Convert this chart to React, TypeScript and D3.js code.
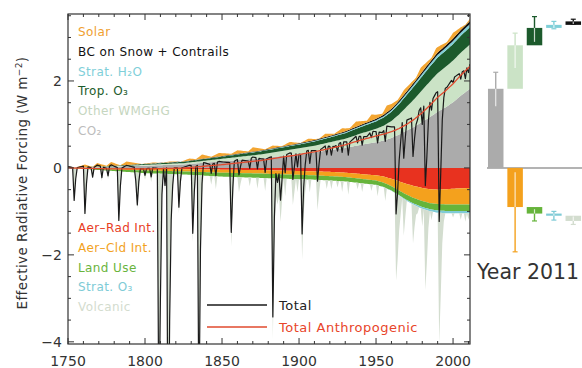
import React from "react";
import * as d3 from "d3";

// ---------- data ----------
const knotYears = [1750, 1775, 1800, 1825, 1850, 1875, 1900, 1910, 1920, 1930, 1940, 1950, 1955, 1960, 1965, 1970, 1975, 1980, 1985, 1990, 1995, 2000, 2005, 2011];
const co2 = [0, 0.02, 0.05, 0.08, 0.15, 0.22, 0.32, 0.36, 0.41, 0.46, 0.53, 0.59, 0.63, 0.69, 0.77, 0.86, 0.95, 1.06, 1.17, 1.29, 1.39, 1.51, 1.66, 1.82];
const otherWMGHG = [0, 0.01, 0.02, 0.03, 0.06, 0.09, 0.13, 0.15, 0.18, 0.21, 0.26, 0.31, 0.34, 0.39, 0.46, 0.55, 0.64, 0.73, 0.82, 0.89, 0.93, 0.96, 0.99, 1.02];
const tropO3 = [0, 0.01, 0.02, 0.03, 0.05, 0.07, 0.09, 0.1, 0.11, 0.13, 0.15, 0.17, 0.19, 0.21, 0.24, 0.27, 0.3, 0.32, 0.34, 0.36, 0.37, 0.38, 0.39, 0.4];
const stratH2O = [0, 0, 0.002, 0.003, 0.005, 0.008, 0.012, 0.014, 0.017, 0.02, 0.024, 0.028, 0.031, 0.035, 0.04, 0.045, 0.05, 0.055, 0.059, 0.063, 0.066, 0.068, 0.07, 0.072];
const bcSnowContrails = [0, 0, 0.003, 0.005, 0.01, 0.012, 0.015, 0.017, 0.02, 0.022, 0.025, 0.03, 0.032, 0.035, 0.038, 0.04, 0.043, 0.046, 0.049, 0.052, 0.055, 0.058, 0.062, 0.066];
const aerRad = [0, -0.01, -0.02, -0.03, -0.04, -0.05, -0.07, -0.08, -0.09, -0.11, -0.14, -0.17, -0.2, -0.25, -0.31, -0.37, -0.42, -0.46, -0.49, -0.5, -0.49, -0.48, -0.47, -0.46];
const aerCld = [0, -0.02, -0.04, -0.05, -0.07, -0.08, -0.09, -0.09, -0.1, -0.1, -0.11, -0.12, -0.14, -0.17, -0.21, -0.25, -0.28, -0.3, -0.32, -0.33, -0.35, -0.36, -0.37, -0.38];
const landUse = [0, -0.03, -0.06, -0.07, -0.09, -0.1, -0.1, -0.1, -0.1, -0.1, -0.1, -0.1, -0.1, -0.1, -0.11, -0.12, -0.13, -0.14, -0.14, -0.15, -0.15, -0.15, -0.15, -0.15];
const stratO3 = [0, 0, 0, 0, 0, 0, 0, 0, 0, 0, 0, -0.002, -0.004, -0.007, -0.012, -0.02, -0.03, -0.04, -0.045, -0.05, -0.05, -0.05, -0.05, -0.05];

const solarYears = [1750, 1755, 1761, 1766, 1769, 1775, 1778, 1784, 1788, 1798, 1805, 1810, 1816, 1823, 1829, 1833, 1837, 1843, 1848, 1856, 1860, 1867, 1870, 1878, 1883, 1889, 1894, 1901, 1906, 1913, 1917, 1923, 1928, 1933, 1937, 1944, 1947, 1954, 1957, 1964, 1968, 1976, 1979, 1986, 1989, 1996, 2000, 2008, 2011];
const solarValues = [0.03, 0, 0.06, 0, 0.08, 0.01, 0.09, 0, 0.08, 0, 0.02, 0, 0.02, 0, 0.05, 0.01, 0.1, 0.02, 0.08, 0.02, 0.08, 0.02, 0.1, 0.01, 0.06, 0.01, 0.07, 0, 0.06, 0, 0.08, 0.02, 0.09, 0.03, 0.12, 0.04, 0.14, 0.04, 0.16, 0.05, 0.11, 0.05, 0.14, 0.05, 0.14, 0.05, 0.13, 0.02, 0.05];

const volcYears = [1754, 1755, 1761, 1762, 1766, 1772, 1776, 1783, 1784, 1794, 1795, 1796, 1800, 1804, 1809, 1810, 1811, 1813, 1815, 1816, 1817, 1818, 1822, 1823, 1831, 1832, 1835, 1836, 1837, 1843, 1846, 1856, 1857, 1861, 1862, 1868, 1873, 1878, 1883, 1884, 1885, 1886, 1887, 1888, 1889, 1891, 1896, 1897, 1899, 1902, 1903, 1904, 1907, 1912, 1913, 1918, 1921, 1925, 1928, 1932, 1938, 1941, 1947, 1951, 1956, 1963, 1964, 1965, 1966, 1968, 1969, 1974, 1975, 1976, 1977, 1980, 1982, 1983, 1984, 1986, 1991, 1992, 1993, 1994, 2000, 2005, 2008, 2010];
const volcValues = [-0.75, -0.25, -1.1, -0.4, -0.2, -0.25, -0.2, -1.2, -0.4, -0.3, -0.85, -0.3, -0.15, -0.2, -6.0, -3.0, -0.6, -0.4, -7.5, -3.5, -1.2, -0.4, -0.9, -0.3, -1.55, -0.6, -6.0, -2.0, -0.5, -0.2, -0.3, -1.6, -0.6, -0.35, -0.15, -0.2, -0.25, -0.3, -3.7, -1.4, -0.4, -0.6, -0.4, -1.0, -0.5, -0.4, -0.6, -0.3, -0.3, -1.85, -0.8, -0.3, -0.3, -0.7, -0.3, -0.2, -0.2, -0.15, -0.25, -0.3, -0.15, -0.2, -0.15, -0.25, -0.3, -2.0, -1.5, -0.8, -0.4, -0.85, -0.4, -0.9, -0.5, -0.2, -0.15, -0.4, -1.85, -1.2, -0.4, -0.2, -3.0, -1.9, -0.7, -0.2, -0.1, -0.15, -0.2, -0.15];

const xTickLabels = ["1750", "1800", "1850", "1900", "1950", "2000"];
const yTickLabels = ["\u22124", "\u22122", "0", "2"];

const posLegend = ["Solar", "BC on Snow + Contrails", "Strat. H\u2082O", "Trop. O\u2083", "Other WMGHG", "CO\u2082"];
const negLegend = ["Aer\u2013Rad Int.", "Aer\u2013Cld Int.", "Land Use", "Strat. O\u2083", "Volcanic"];

// Year 2011 bars
const posBarValues = [1.82, 1.0, 0.4, 0.07, 0.08];
const posErrLow = [1.42, 2.3, 2.9, 3.2, 3.31];
const posErrHigh = [2.2, 3.1, 3.48, 3.37, 3.42];
const negBarValues = [-0.9, -0.15, -0.05, -0.12];
const negErrLow = [-1.93, -1.22, -1.2, -1.3];
const negErrHigh = [-0.1, -0.95, -1.0, -1.12];

// ---------- styles ----------
const C = {
  co2: "#ababab",
  wmghg: "#cbe3c6",
  o3: "#1c5a2c",
  h2o: "#7fcfd8",
  bc: "#111111",
  solar: "#f3a531",
  aerRad: "#e8321f",
  aerCld: "#f4a11d",
  land: "#66b43b",
  so3: "#7fcbd6",
  volc: "#d3ddcf",
};
const posLegendColors = ["#f0a030", "#111", "#7fcfd9", "#1e5c2c", "#c6d6c0", "#bcbcbc"];
const negLegendColors = ["#e8401f", "#f2a21e", "#69b43c", "#7ecbd6", "#d3dcce"];
const FONT = "DejaVu Sans, Verdana, sans-serif";

export default function App() {
  const x = d3.scaleLinear().domain([1750, 2011]).range([68, 470]);
  const y = d3.scaleLinear().domain([-4.05, 3.54]).range([344, 14]);

  const lin = (vals: number[]) => d3.scaleLinear().domain(knotYears).range(vals).clamp(true);
  const fCo2 = lin(co2), fW = lin(otherWMGHG), fO3 = lin(tropO3), fH = lin(stratH2O), fB = lin(bcSnowContrails);
  const fR = lin(aerRad), fC = lin(aerCld), fL = lin(landUse), fS = lin(stratO3);
  const fSol = d3.scaleLinear().domain(solarYears).range(solarValues).clamp(true);
  const volcMap = new Map<number, number>();
  volcYears.forEach((yr, i) => volcMap.set(yr, volcValues[i]));

  const years = d3.range(1750, 2012);
  const rows = years.map((yr) => {
    const p1 = fCo2(yr);
    const p2 = p1 + fW(yr);
    const p3 = p2 + fO3(yr);
    const p4 = p3 + fH(yr);
    const p5 = p4 + fB(yr);
    const sol = fSol(yr);
    const p6 = p5 + Math.max(0, sol);
    const n1 = fR(yr);
    const n2 = n1 + fC(yr);
    const n3 = n2 + fL(yr);
    const n4 = n3 + fS(yr);
    const v = volcMap.get(yr) ?? 0;
    const n5 = n4 + v;
    const anthro = p5 + n4;
    const total = anthro + sol + v;
    return { yr, p1, p2, p3, p4, p5, p6, n1, n2, n3, n4, n5, anthro, total };
  });

  type R = (typeof rows)[number];
  const band = (lo: (d: R) => number, hi: (d: R) => number) =>
    d3.area<R>().x((d) => x(d.yr)).y0((d) => y(lo(d))).y1((d) => y(hi(d)))(rows) || "";

  const layers = [
    { d: band(() => 0, (d) => d.p1), c: C.co2 },
    { d: band((d) => d.p1, (d) => d.p2), c: C.wmghg },
    { d: band((d) => d.p2, (d) => d.p3), c: C.o3 },
    { d: band((d) => d.p3, (d) => d.p4), c: C.h2o },
    { d: band((d) => d.p4, (d) => d.p5), c: C.bc },
    { d: band((d) => d.p5, (d) => d.p6), c: C.solar },
    { d: band(() => 0, (d) => d.n1), c: C.aerRad },
    { d: band((d) => d.n1, (d) => d.n2), c: C.aerCld },
    { d: band((d) => d.n2, (d) => d.n3), c: C.land },
    { d: band((d) => d.n3, (d) => d.n4), c: C.so3 },
    { d: band((d) => d.n4, (d) => d.n5), c: C.volc },
  ];

  const line = (f: (d: R) => number) => d3.line<R>().x((d) => x(d.yr)).y((d) => y(f(d)))(rows) || "";
  const totalPath = line((d) => d.total);
  const anthroPath = line((d) => d.anthro);

  const xMajor = xTickLabels.map(Number);
  const xMinor = d3.range(1760, 2011, 10).filter((v) => !xMajor.includes(v));
  const yMajor = [-4, -2, 0, 2];
  const yMinor = d3.range(-3.5, 3.51, 0.5).filter((v) => !yMajor.includes(v));

  const L = 68, Rt = 470, T = 14, B = 344;

  // right panel
  const col = d3.scaleBand<number>().domain([0, 1, 2, 3, 4]).range([487, 582]).paddingInner(0.2).paddingOuter(0.05);
  const posColors = [C.co2, C.wmghg, C.o3, C.h2o, C.bc];
  const negColors = [C.aerCld, C.land, C.so3, C.volc];
  const posCum = Array.from(d3.cumsum(posBarValues));
  const negCum = Array.from(d3.cumsum(negBarValues));
  const bw = col.bandwidth();

  const errBar = (cx: number, lo: number, hi: number, b0: number, b1: number, color: string, key: string) => {
    const inLo = Math.max(lo, Math.min(b0, b1));
    const inHi = Math.min(hi, Math.max(b0, b1));
    return (
      <g key={key}>
        <line x1={cx} x2={cx} y1={y(lo)} y2={y(hi)} stroke={color} strokeWidth={1.4} />
        <line x1={cx - 2.5} x2={cx + 2.5} y1={y(lo)} y2={y(lo)} stroke={color} strokeWidth={1.2} />
        <line x1={cx - 2.5} x2={cx + 2.5} y1={y(hi)} y2={y(hi)} stroke={color} strokeWidth={1.2} />
        {inHi > inLo && <line x1={cx} x2={cx} y1={y(inLo)} y2={y(inHi)} stroke="#ffffff" strokeOpacity={0.75} strokeWidth={1.2} />}
      </g>
    );
  };

  return (
    <svg width={582} height={368} style={{ position: "absolute", left: 0, top: 0, background: "#fff" }} fontFamily={FONT}>
      <defs>
        <clipPath id="plotclip">
          <rect x={L} y={T} width={Rt - L} height={B - T} />
        </clipPath>
      </defs>

      <g clipPath="url(#plotclip)">
        {layers.map((l, i) => (
          <path key={i} d={l.d} fill={l.c} stroke="none" />
        ))}
        <path d={totalPath} fill="none" stroke="#1a1a1a" strokeWidth={1.2} strokeLinejoin="round" />
        <path d={anthroPath} fill="none" stroke="#e04a2e" strokeWidth={1.3} />
      </g>

      {/* frame */}
      <rect x={L} y={T} width={Rt - L} height={B - T} fill="none" stroke="#333" strokeWidth={1.2} />
      {xMajor.map((v) => (
        <g key={"xM" + v}>
          <line x1={x(v)} x2={x(v)} y1={B} y2={B - 6} stroke="#333" />
          <line x1={x(v)} x2={x(v)} y1={T} y2={T + 6} stroke="#333" />
        </g>
      ))}
      {xMinor.map((v) => (
        <g key={"xm" + v}>
          <line x1={x(v)} x2={x(v)} y1={B} y2={B - 3} stroke="#333" />
          <line x1={x(v)} x2={x(v)} y1={T} y2={T + 3} stroke="#333" />
        </g>
      ))}
      {yMajor.map((v) => (
        <g key={"yM" + v}>
          <line x1={L} x2={L + 6} y1={y(v)} y2={y(v)} stroke="#333" />
          <line x1={Rt} x2={Rt - 6} y1={y(v)} y2={y(v)} stroke="#333" />
        </g>
      ))}
      {yMinor.map((v) => (
        <g key={"ym" + v}>
          <line x1={L} x2={L + 3} y1={y(v)} y2={y(v)} stroke="#333" />
          <line x1={Rt} x2={Rt - 3} y1={y(v)} y2={y(v)} stroke="#333" />
        </g>
      ))}
      {xTickLabels.map((t) => (
        <text key={"xl" + t} x={x(Number(t))} y={366} textAnchor="middle" fontSize={14} fill="#333">
          {t}
        </text>
      ))}
      {yTickLabels.map((t, i) => (
        <text key={"yl" + t} x={62} y={y(yMajor[i]) + 5} textAnchor="end" fontSize={14} fill="#333">
          {t}
        </text>
      ))}
      <text transform={`translate(27,183) rotate(-90)`} textAnchor="middle" fontSize={13.5} letterSpacing={0.4} fill="#333">
        Effective Radiative Forcing (W m<tspan dy={-5} fontSize={9}>{"\u22122"}</tspan>
        <tspan dy={5}>)</tspan>
      </text>

      {/* legends */}
      {posLegend.map((t, i) => (
        <text key={"pl" + i} x={78} y={36 + i * 19.8} fontSize={12} letterSpacing={0.4} fill={posLegendColors[i]}>
          {t}
        </text>
      ))}
      {negLegend.map((t, i) => (
        <text key={"nl" + i} x={78} y={232 + i * 19.8} fontSize={12} letterSpacing={0.4} fill={negLegendColors[i]}>
          {t}
        </text>
      ))}
      <line x1={207} x2={267} y1={305} y2={305} stroke="#1a1a1a" strokeWidth={1.5} />
      <text x={279} y={310} fontSize={13} letterSpacing={0.5} fill="#222">Total</text>
      <line x1={207} x2={267} y1={327} y2={327} stroke="#e04a2e" strokeWidth={1.5} />
      <text x={279} y={332} fontSize={13} letterSpacing={0.5} fill="#e8452a">Total Anthropogenic</text>

      {/* Year 2011 panel */}
      <line x1={487} x2={582} y1={y(0)} y2={y(0)} stroke="#9a9a9a" strokeWidth={1.5} />
      {posBarValues.map((v, i) => {
        const b0 = posCum[i] - v;
        const b1 = posCum[i];
        const bx = col(i)!;
        return (
          <g key={"pb" + i}>
            <rect x={bx} y={y(b1)} width={bw} height={y(b0) - y(b1)} fill={posColors[i]} />
            {errBar(bx + bw / 2, posErrLow[i], posErrHigh[i], b0, b1, posColors[i], "pe" + i)}
          </g>
        );
      })}
      {negBarValues.map((v, i) => {
        const b0 = negCum[i] - v;
        const b1 = negCum[i];
        const bx = col(i + 1)!;
        return (
          <g key={"nb" + i}>
            <rect x={bx} y={y(b0)} width={bw} height={y(b1) - y(b0)} fill={negColors[i]} />
            {errBar(bx + bw / 2, negErrLow[i], negErrHigh[i], b0, b1, negColors[i], "ne" + i)}
          </g>
        );
      })}
      <text x={477} y={279} fontSize={20.5} fill="#333">Year 2011</text>
    </svg>
  );
}
